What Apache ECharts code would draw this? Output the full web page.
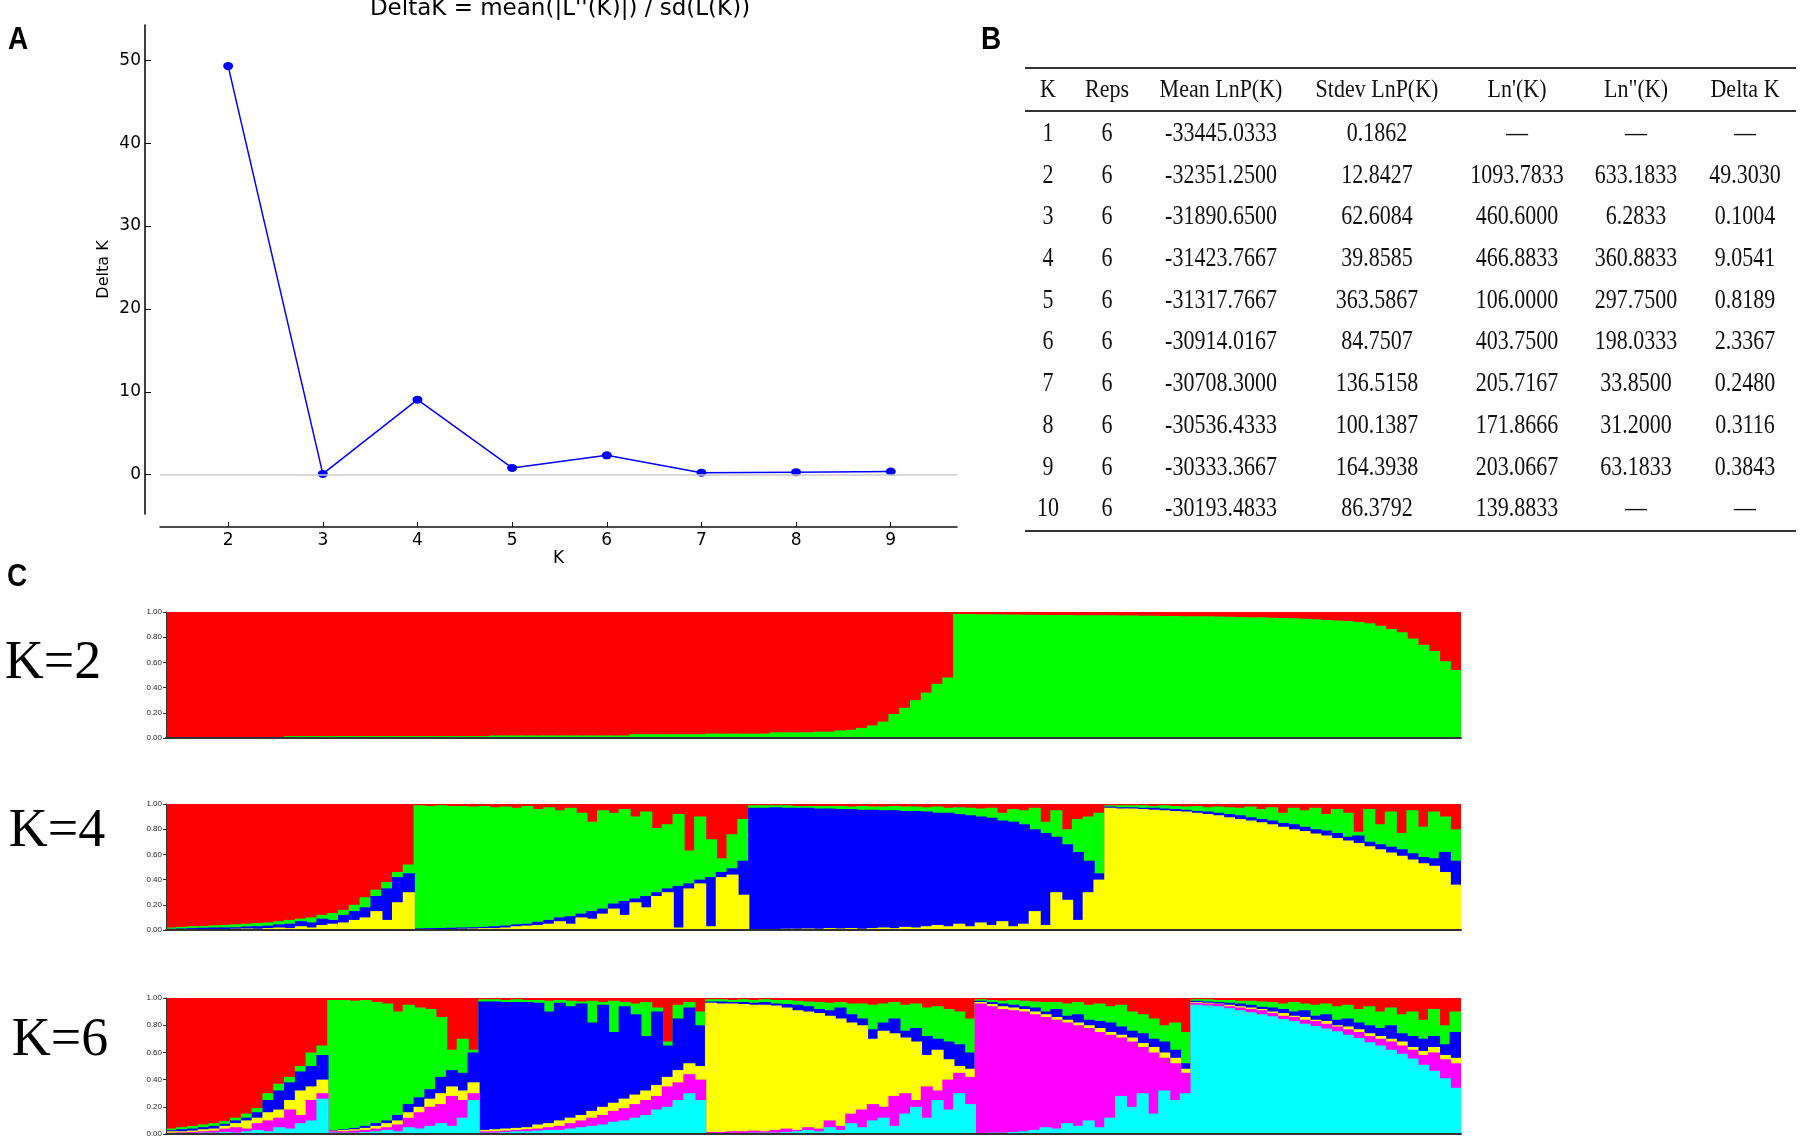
<!DOCTYPE html>
<html>
<head>
<meta charset="utf-8">
<title>DeltaK and STRUCTURE bar plots</title>
<script src="https://cdn.jsdelivr.net/npm/echarts@6/dist/echarts.min.js"></script>
<style>
    html, body { margin: 0; padding: 0; background: #fff; }
    #chart { width: 1800px; height: 1142px; }
</style>
</head>
<body>
<div id="chart"></div>
<script>
// ==================
// DATA
// ==================

// Panel A / B: Evanno table
const tableHeader = ['K', 'Reps', 'Mean LnP(K)', 'Stdev LnP(K)', "Ln'(K)", 'Ln"(K)', 'Delta K'];
const tableK = [1, 2, 3, 4, 5, 6, 7, 8, 9, 10];
const tableReps = [6, 6, 6, 6, 6, 6, 6, 6, 6, 6];
const meanLnP = [-33445.0333, -32351.25, -31890.65, -31423.7667, -31317.7667, -30914.0167, -30708.3, -30536.4333, -30333.3667, -30193.4833];
const stdevLnP = [0.1862, 12.8427, 62.6084, 39.8585, 363.5867, 84.7507, 136.5158, 100.1387, 164.3938, 86.3792];
const lnPrime = [null, 1093.7833, 460.6, 466.8833, 106.0, 403.75, 205.7167, 171.8666, 203.0667, 139.8833];
const lnDoublePrime = [null, 633.1833, 6.2833, 360.8833, 297.75, 198.0333, 33.85, 31.2, 63.1833, null];
const deltaK = [null, 49.303, 0.1004, 9.0541, 0.8189, 2.3367, 0.248, 0.3116, 0.3843, null];

const kTicks = [2, 3, 4, 5, 6, 7, 8, 9];
const deltaKTicks = [0, 10, 20, 30, 40, 50];

// Panel C: 120 individuals per plot, value = upper edge of each colour band (Q cumulated from the bottom)
const individuals = Array.from({ length: 120 }, (_, i) => i + 1);
const totalMembership = 1;

// K=2 (groups: red 73, green 47)
const k2GreenTop = [
    0.005, 0.005, 0.005, 0.005, 0.005, 0.005, 0.005, 0.005, 0.005, 0.005, 0.005,
    0.015, 0.015, 0.015, 0.015, 0.015, 0.015, 0.015, 0.015, 0.015, 0.015, 0.015, 0.015, 0.015, 0.015, 0.015, 0.015, 0.015, 0.015, 0.015,
    0.02, 0.02, 0.02, 0.02, 0.02, 0.02, 0.02, 0.02, 0.02, 0.02, 0.02, 0.02, 0.02,
    0.03, 0.03, 0.03, 0.03, 0.03, 0.03, 0.03,
    0.035, 0.035, 0.035, 0.035, 0.035, 0.035,
    0.045, 0.045, 0.045, 0.045,
    0.05, 0.05, 0.06, 0.065,
    0.08, 0.10, 0.13, 0.19, 0.24, 0.30, 0.36, 0.43, 0.48,
    0.985, 0.985, 0.983, 0.982, 0.981, 0.98, 0.978, 0.978, 0.977, 0.976, 0.976, 0.975, 0.975, 0.974, 0.974, 0.973,
    0.972, 0.971, 0.97, 0.969, 0.968, 0.967, 0.967, 0.966, 0.965, 0.963, 0.961, 0.959, 0.958, 0.955, 0.953, 0.951,
    0.947, 0.942, 0.937, 0.932, 0.928, 0.92, 0.91, 0.89, 0.865, 0.84, 0.79, 0.74, 0.69, 0.61, 0.54
];

// K=4 (groups: red 23, green 31, blue 33, yellow 33), bands bottom->top: yellow, blue, green, red
const k4YellowTop = [
    0, 0.003, 0.005, 0.005, 0.008, 0.005, 0.01, 0.012, 0.01, 0.015, 0.02, 0.015, 0.03, 0.02, 0.04, 0.05, 0.06, 0.08, 0.10, 0.15, 0.08, 0.22, 0.30,
    0.005, 0.005, 0.008, 0.008, 0.01, 0.012, 0.015, 0.015, 0.02, 0.03, 0.035, 0.04, 0.05, 0.07, 0.05, 0.10, 0.09, 0.13, 0.17, 0.12, 0.22, 0.18, 0.27, 0.30, 0.02, 0.33, 0.37, 0.03, 0.42, 0.44, 0.28,
    0.005, 0.005, 0.008, 0.01, 0.01, 0.012, 0.01, 0.015, 0.012, 0.015, 0.01, 0.015, 0.02, 0.015, 0.025, 0.02, 0.03, 0.04, 0.03, 0.05, 0.03, 0.06, 0.04, 0.07, 0.03, 0.05, 0.15, 0.04, 0.30, 0.24, 0.08, 0.30, 0.40,
    0.97, 0.965, 0.965, 0.96, 0.955, 0.95, 0.945, 0.94, 0.93, 0.92, 0.91, 0.895, 0.88, 0.87, 0.855, 0.84, 0.82, 0.80, 0.785, 0.765, 0.75, 0.73, 0.71, 0.69, 0.665, 0.64, 0.615, 0.59, 0.56, 0.53, 0.51, 0.46, 0.36
];
const k4BlueTop = [
    0.01, 0.012, 0.015, 0.018, 0.02, 0.02, 0.022, 0.028, 0.03, 0.035, 0.045, 0.05, 0.07, 0.06, 0.09, 0.08, 0.12, 0.15, 0.18, 0.27, 0.33, 0.42, 0.45,
    0.013, 0.015, 0.016, 0.018, 0.02, 0.022, 0.025, 0.03, 0.035, 0.045, 0.05, 0.065, 0.08, 0.10, 0.11, 0.13, 0.15, 0.17, 0.21, 0.23, 0.25, 0.27, 0.30, 0.33, 0.35, 0.37, 0.40, 0.42, 0.46, 0.49, 0.55,
    0.97, 0.97, 0.975, 0.97, 0.97, 0.97, 0.965, 0.965, 0.96, 0.96, 0.955, 0.955, 0.95, 0.95, 0.945, 0.945, 0.94, 0.93, 0.93, 0.92, 0.91, 0.90, 0.89, 0.87, 0.86, 0.84, 0.80, 0.77, 0.74, 0.68, 0.62, 0.55, 0.45,
    0.98, 0.975, 0.975, 0.97, 0.97, 0.965, 0.96, 0.955, 0.945, 0.94, 0.93, 0.92, 0.91, 0.895, 0.88, 0.87, 0.85, 0.84, 0.82, 0.80, 0.79, 0.77, 0.74, 0.75, 0.70, 0.68, 0.66, 0.64, 0.61, 0.58, 0.57, 0.62, 0.55
];
const k4GreenTop = [
    0.02, 0.025, 0.03, 0.032, 0.037, 0.04, 0.045, 0.05, 0.055, 0.06, 0.07, 0.08, 0.09, 0.10, 0.12, 0.135, 0.16, 0.20, 0.26, 0.32, 0.38, 0.46, 0.52,
    0.99, 0.985, 0.99, 0.985, 0.985, 0.98, 0.985, 0.975, 0.98, 0.97, 0.985, 0.96, 0.975, 0.95, 0.97, 0.93, 0.86, 0.95, 0.93, 0.96, 0.90, 0.94, 0.81, 0.84, 0.92, 0.63, 0.90, 0.72, 0.57, 0.76, 0.88,
    0.99, 0.99, 0.99, 0.99, 0.985, 0.985, 0.985, 0.985, 0.985, 0.98, 0.985, 0.98, 0.98, 0.985, 0.98, 0.98, 0.975, 0.98, 0.97, 0.975, 0.97, 0.965, 0.97, 0.93, 0.96, 0.95, 0.97, 0.86, 0.95, 0.80, 0.88, 0.90, 0.93,
    0.99, 0.99, 0.99, 0.99, 0.985, 0.99, 0.985, 0.98, 0.985, 0.975, 0.98, 0.975, 0.97, 0.98, 0.96, 0.975, 0.93, 0.97, 0.95, 0.97, 0.92, 0.96, 0.93, 0.78, 0.96, 0.84, 0.94, 0.77, 0.95, 0.82, 0.94, 0.90, 0.80
];

// K=6 (groups: red 15, green 14, blue 21, yellow 25, magenta 20, cyan 25), bands bottom->top: cyan, magenta, yellow, blue, green, red
const k6CyanTop = [
    0.005, 0.005, 0.008, 0.01, 0.01, 0.015, 0.01, 0.02, 0.03, 0.02, 0.05, 0.04, 0.08, 0.10, 0.26,
    0.01, 0.01, 0.01, 0.015, 0.02, 0.03, 0.02, 0.05, 0.04, 0.06, 0.08, 0.06, 0.12, 0.25,
    0.01, 0.01, 0.015, 0.02, 0.02, 0.025, 0.03, 0.03, 0.04, 0.05, 0.06, 0.07, 0.09, 0.10, 0.12, 0.14, 0.18, 0.20, 0.25, 0.30, 0.25,
    0.005, 0.005, 0.008, 0.005, 0.01, 0.01, 0.01, 0.015, 0.02, 0.03, 0.02, 0.05, 0.03, 0.08, 0.05, 0.10, 0.12, 0.06, 0.15, 0.20, 0.12, 0.25, 0.18, 0.30, 0.22,
    0.005, 0.01, 0.01, 0.015, 0.02, 0.03, 0.05, 0.04, 0.08, 0.06, 0.10, 0.05, 0.12, 0.28, 0.20, 0.30, 0.15, 0.32, 0.25, 0.30,
    0.95, 0.945, 0.94, 0.925, 0.91, 0.895, 0.88, 0.865, 0.845, 0.83, 0.81, 0.795, 0.775, 0.755, 0.73, 0.705, 0.675, 0.65, 0.62, 0.59, 0.555, 0.51, 0.465, 0.41, 0.34
];
const k6MagentaTop = [
    0.01, 0.012, 0.015, 0.02, 0.025, 0.04, 0.05, 0.04, 0.08, 0.10, 0.12, 0.18, 0.14, 0.25, 0.30,
    0.02, 0.02, 0.025, 0.03, 0.04, 0.05, 0.07, 0.12, 0.16, 0.20, 0.22, 0.28, 0.25, 0.30,
    0.02, 0.02, 0.025, 0.03, 0.035, 0.04, 0.05, 0.06, 0.08, 0.10, 0.12, 0.14, 0.17, 0.19, 0.22, 0.25, 0.28, 0.35, 0.38, 0.44, 0.40,
    0.015, 0.015, 0.02, 0.02, 0.025, 0.02, 0.03, 0.04, 0.03, 0.05, 0.04, 0.10, 0.06, 0.15, 0.18, 0.22, 0.20, 0.28, 0.30, 0.25, 0.35, 0.32, 0.40, 0.45, 0.42,
    0.96, 0.94, 0.92, 0.91, 0.90, 0.88, 0.86, 0.84, 0.82, 0.80, 0.78, 0.75, 0.73, 0.71, 0.68, 0.64, 0.60, 0.56, 0.52, 0.45,
    0.965, 0.96, 0.955, 0.94, 0.93, 0.92, 0.91, 0.89, 0.87, 0.86, 0.84, 0.83, 0.81, 0.79, 0.77, 0.75, 0.72, 0.70, 0.68, 0.65, 0.62, 0.58, 0.60, 0.55, 0.52
];
const k6YellowTop = [
    0.02, 0.02, 0.025, 0.035, 0.04, 0.06, 0.08, 0.10, 0.12, 0.16, 0.18, 0.25, 0.32, 0.35, 0.40,
    0.025, 0.03, 0.035, 0.045, 0.06, 0.08, 0.10, 0.16, 0.20, 0.26, 0.30, 0.35, 0.32, 0.38,
    0.03, 0.035, 0.04, 0.045, 0.05, 0.07, 0.08, 0.10, 0.12, 0.14, 0.17, 0.20, 0.23, 0.26, 0.29, 0.32, 0.36, 0.42, 0.47, 0.52, 0.50,
    0.965, 0.96, 0.96, 0.955, 0.95, 0.95, 0.945, 0.93, 0.91, 0.90, 0.89, 0.87, 0.85, 0.82, 0.80, 0.70, 0.76, 0.74, 0.71, 0.68, 0.58, 0.62, 0.55, 0.50, 0.48,
    0.97, 0.955, 0.94, 0.93, 0.92, 0.90, 0.88, 0.86, 0.84, 0.82, 0.80, 0.78, 0.75, 0.73, 0.71, 0.67, 0.64, 0.60, 0.56, 0.48,
    0.97, 0.965, 0.96, 0.95, 0.94, 0.93, 0.92, 0.90, 0.89, 0.87, 0.86, 0.84, 0.83, 0.80, 0.79, 0.77, 0.74, 0.72, 0.70, 0.68, 0.64, 0.61, 0.64, 0.58, 0.56
];
const k6BlueTop = [
    0.028, 0.035, 0.04, 0.05, 0.06, 0.075, 0.10, 0.12, 0.16, 0.25, 0.32, 0.38, 0.46, 0.50, 0.58,
    0.03, 0.035, 0.045, 0.06, 0.08, 0.10, 0.14, 0.22, 0.27, 0.33, 0.42, 0.47, 0.45, 0.60,
    0.975, 0.975, 0.97, 0.97, 0.97, 0.965, 0.90, 0.965, 0.94, 0.96, 0.82, 0.95, 0.75, 0.94, 0.88, 0.72, 0.90, 0.65, 0.85, 0.93, 0.80,
    0.975, 0.975, 0.97, 0.97, 0.965, 0.97, 0.96, 0.955, 0.95, 0.94, 0.92, 0.91, 0.93, 0.88, 0.85, 0.77, 0.82, 0.85, 0.76, 0.78, 0.72, 0.70, 0.68, 0.66, 0.60,
    0.98, 0.97, 0.96, 0.95, 0.94, 0.93, 0.90, 0.92, 0.87, 0.88, 0.84, 0.83, 0.82, 0.79, 0.76, 0.74, 0.70, 0.68, 0.62, 0.52,
    0.98, 0.975, 0.97, 0.965, 0.96, 0.95, 0.935, 0.93, 0.92, 0.90, 0.91, 0.87, 0.88, 0.84, 0.85, 0.82, 0.80, 0.78, 0.80, 0.74, 0.72, 0.70, 0.72, 0.66, 0.75
];
const k6GreenTop = [
    0.04, 0.05, 0.06, 0.07, 0.08, 0.095, 0.12, 0.15, 0.19, 0.30, 0.37, 0.42, 0.50, 0.60, 0.65,
    0.985, 0.985, 0.98, 0.985, 0.97, 0.96, 0.90, 0.95, 0.93, 0.92, 0.86, 0.62, 0.70, 0.62,
    0.99, 0.99, 0.985, 0.99, 0.985, 0.985, 0.98, 0.985, 0.98, 0.975, 0.98, 0.97, 0.98, 0.97, 0.96, 0.97, 0.93, 0.68, 0.95, 0.97, 0.90,
    0.99, 0.99, 0.985, 0.99, 0.985, 0.99, 0.985, 0.985, 0.98, 0.975, 0.97, 0.965, 0.97, 0.96, 0.96, 0.95, 0.96, 0.97, 0.95, 0.96, 0.93, 0.94, 0.92, 0.90, 0.85,
    0.99, 0.985, 0.98, 0.985, 0.98, 0.975, 0.97, 0.97, 0.96, 0.97, 0.95, 0.96, 0.94, 0.95, 0.90, 0.88, 0.85, 0.80, 0.82, 0.75,
    0.99, 0.99, 0.985, 0.985, 0.98, 0.98, 0.975, 0.97, 0.96, 0.97, 0.96, 0.95, 0.96, 0.94, 0.95, 0.92, 0.94, 0.90, 0.93, 0.88, 0.90, 0.84, 0.92, 0.80, 0.90
];

// ==================
// CONFIG
// ==================

const config = {
    colors: {
        red: '#ff0000', green: '#00ff00', blue: '#0000ff',
        yellow: '#ffff00', magenta: '#ff00ff', cyan: '#00ffff'
    },
    lineGrid: { left: 160, top: 25, width: 797, height: 489 },
    qGrids: [
        { left: 166, top: 612, width: 1295, height: 126, label: 'K=2', labelX: 53, labelY: 664 },
        { left: 166, top: 804, width: 1295, height: 126, label: 'K=4', labelX: 57, labelY: 832 },
        { left: 166, top: 998, width: 1295, height: 136, label: 'K=6', labelX: 60, labelY: 1041 }
    ],
    table: {
        left: 1025, right: 1796,
        ruleTop: 68, ruleHead: 111, ruleBottom: 531,
        headY: 91, firstRowY: 134, rowStep: 41.7,
        colX: [1048, 1107, 1221, 1377, 1517, 1636, 1745]
    },
    fonts: {
        sans: '"DejaVu Sans", sans-serif',
        serif: '"Liberation Serif", "Times New Roman", serif',
        label: '"Liberation Sans", Arial, sans-serif'
    }
};

// ==================
// BUILDERS
// ==================

const totals = individuals.map(() => totalMembership);

/**
 * Overlapping bars per band, drawn from the top band (full height) to the bottom band.
 * Bars are a touch wider than their slot so neighbours overlap and no seams show.
 */
function structureSeries(axisIndex, bands) {
    return bands.map(b => ({
        type: 'bar',
        xAxisIndex: axisIndex,
        yAxisIndex: axisIndex,
        data: b.data,
        barGap: '-100%',
        barWidth: '112%',
        silent: true,
        itemStyle: { color: b.color }
    }));
}

function fmt(v) {
    return v == null ? '\u2014' : v.toFixed(4);
}

function tableGraphics(cfg) {
    const t = cfg.table;
    const items = [];
    const rule = y => ({
        type: 'line',
        shape: { x1: t.left, y1: y, x2: t.right, y2: y },
        style: { stroke: '#333', lineWidth: 2 }
    });
    items.push(rule(t.ruleTop), rule(t.ruleHead), rule(t.ruleBottom));

    const cell = (x, y, text, stretch) => ({
        type: 'text',
        x: x,
        y: y,
        scaleY: stretch,
        style: {
            text: text,
            fill: '#111',
            fontSize: 22,
            fontFamily: cfg.fonts.serif,
            align: 'center',
            verticalAlign: 'middle'
        }
    });

    tableHeader.forEach((h, c) => items.push(cell(t.colX[c], t.headY, h, 1.1)));

    const columns = [
        tableK.map(String),
        tableReps.map(String),
        meanLnP.map(fmt),
        stdevLnP.map(fmt),
        lnPrime.map(fmt),
        lnDoublePrime.map(fmt),
        deltaK.map(fmt)
    ];
    tableK.forEach((k, r) => {
        const y = t.firstRowY + r * t.rowStep;
        columns.forEach((col, c) => items.push(cell(t.colX[c], y, col[r], 1.2)));
    });
    return items;
}

function panelLetter(text, x, y) {
    return {
        type: 'text', x: x, y: y, scaleY: 1.1,
        style: {
            text: text, fill: '#000', fontSize: 28, fontWeight: 'bold',
            fontFamily: config.fonts.label, align: 'center', verticalAlign: 'middle'
        }
    };
}

// ==================
// OPTION
// ==================

const lineData = tableK
    .map((k, i) => (deltaK[i] == null ? null : [k, deltaK[i]]))
    .filter(Boolean);

const c = config.colors;

const grids = [config.lineGrid].concat(config.qGrids).map(g => ({
    left: g.left, top: g.top, width: g.width, height: g.height
}));

const xAxes = [{
    gridIndex: 0,
    type: 'value',
    min: 1.28,
    max: 9.7,
    offset: 13,
    name: 'K',
    nameLocation: 'middle',
    nameGap: 23,
    nameTextStyle: { fontSize: 17, fontFamily: config.fonts.sans, color: '#000' },
    axisLine: { onZero: false, lineStyle: { color: '#111', width: 1.5 } },
    axisTick: { customValues: kTicks, inside: true, length: 5, lineStyle: { color: '#111' } },
    axisLabel: { customValues: kTicks, fontSize: 17, fontFamily: config.fonts.sans, color: '#000', margin: 5 },
    splitLine: { show: false }
}].concat(config.qGrids.map((g, i) => ({
    gridIndex: i + 1,
    type: 'category',
    data: individuals,
    axisLine: { onZero: false, lineStyle: { color: '#333', width: 2 } },
    axisTick: { show: false },
    axisLabel: { show: false },
    splitLine: { show: false },
    z: 5
})));

const yAxes = [{
    gridIndex: 0,
    type: 'value',
    min: -4.74,
    max: 54.26,
    offset: 15,
    name: 'Delta K',
    nameLocation: 'middle',
    nameRotate: 90,
    nameGap: 33,
    nameTextStyle: { fontSize: 16, fontFamily: config.fonts.sans, color: '#000' },
    axisLine: { show: true, onZero: false, lineStyle: { color: '#000', width: 1.5 } },
    axisTick: { show: true, customValues: deltaKTicks, inside: true, length: 6, lineStyle: { color: '#000' } },
    axisLabel: { customValues: deltaKTicks, fontSize: 17, fontFamily: config.fonts.sans, color: '#000', margin: 4 },
    splitLine: { show: false }
}].concat(config.qGrids.map((g, i) => ({
    gridIndex: i + 1,
    type: 'value',
    min: 0,
    max: 1,
    interval: 0.2,
    axisLine: { show: true, onZero: false, lineStyle: { color: '#333', width: 1 } },
    axisTick: { show: true, length: 3, lineStyle: { color: '#333' } },
    axisLabel: {
        fontSize: 8, fontFamily: config.fonts.label, color: '#222', margin: 4,
        formatter: v => v.toFixed(2)
    },
    splitLine: { show: false },
    z: 5
})));

const series = [
    {
        // zero reference line, kept under the Delta K curve
        type: 'line',
        xAxisIndex: 0,
        yAxisIndex: 0,
        data: [],
        z: 1,
        markLine: {
            silent: true,
            symbol: 'none',
            label: { show: false },
            lineStyle: { color: '#cccccc', width: 1.5, type: 'solid' },
            data: [{ yAxis: 0 }]
        }
    },
    {
        type: 'line',
        xAxisIndex: 0,
        yAxisIndex: 0,
        data: lineData,
        symbol: 'circle',
        symbolSize: [10, 8],
        lineStyle: { color: '#0000ff', width: 1.5 },
        itemStyle: { color: '#0000ff' },
        z: 3
    }
]
    .concat(structureSeries(1, [
        { color: c.red, data: totals },
        { color: c.green, data: k2GreenTop }
    ]))
    .concat(structureSeries(2, [
        { color: c.red, data: totals },
        { color: c.green, data: k4GreenTop },
        { color: c.blue, data: k4BlueTop },
        { color: c.yellow, data: k4YellowTop }
    ]))
    .concat(structureSeries(3, [
        { color: c.red, data: totals },
        { color: c.green, data: k6GreenTop },
        { color: c.blue, data: k6BlueTop },
        { color: c.yellow, data: k6YellowTop },
        { color: c.magenta, data: k6MagentaTop },
        { color: c.cyan, data: k6CyanTop }
    ]));

const graphics = [
    {
        type: 'text', x: 560, y: 9,
        style: {
            text: "DeltaK = mean(|L''(K)|) / sd(L(K))",
            fill: '#000', fontSize: 23, fontFamily: config.fonts.sans,
            align: 'center', verticalAlign: 'middle'
        }
    },
    panelLetter('A', 18, 41),
    panelLetter('B', 991, 41),
    panelLetter('C', 17, 578)
]
    .concat(config.qGrids.map(g => ({
        type: 'text', x: g.labelX, y: g.labelY,
        style: {
            text: g.label, fill: '#000', fontSize: 54, fontFamily: config.fonts.serif,
            align: 'center', verticalAlign: 'middle'
        }
    })))
    .concat(tableGraphics(config));

const chart = echarts.init(document.getElementById('chart'), null, { renderer: 'canvas' });
chart.setOption({
    backgroundColor: '#ffffff',
    animation: false,
    grid: grids,
    xAxis: xAxes,
    yAxis: yAxes,
    series: series,
    graphic: graphics
});
</script>
</body>
</html>
